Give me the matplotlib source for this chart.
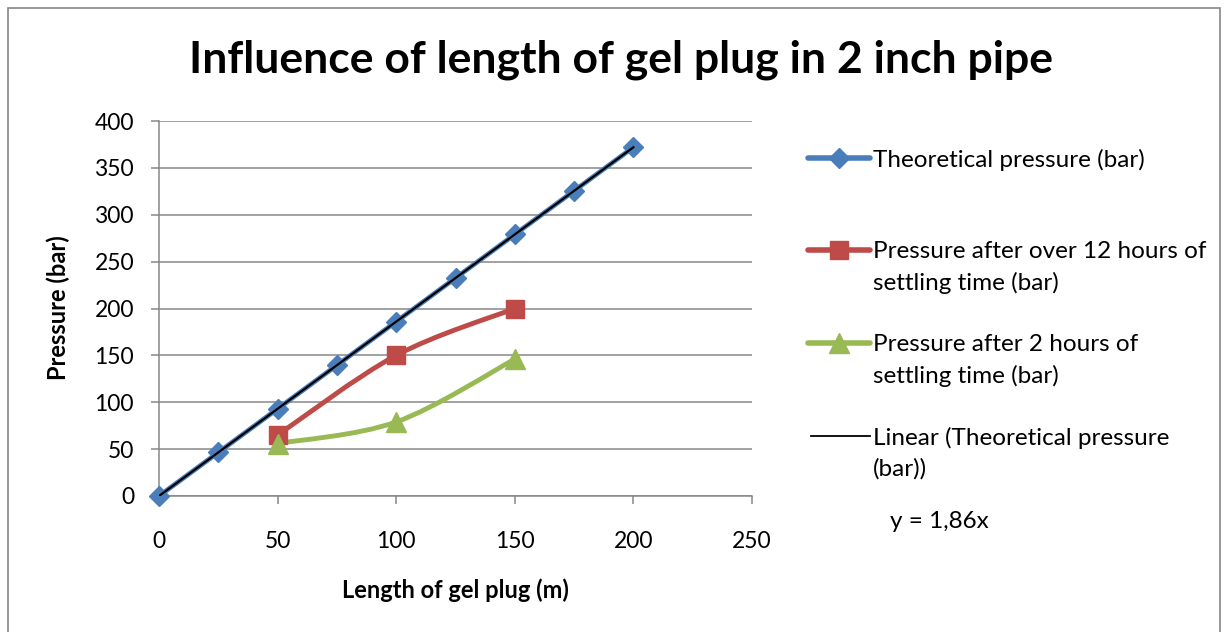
import matplotlib
matplotlib.use("Agg")
import matplotlib.pyplot as plt
import numpy as np
from matplotlib.path import Path
from matplotlib.patches import PathPatch, Rectangle
from matplotlib.lines import Line2D

plt.rcParams['font.family'] = ['Lato', 'DejaVu Sans']

# Data
theo_x = [0, 25, 50, 75, 100, 125, 150, 175, 200]
theo_y = [0, 46.5, 93, 139.5, 186, 232.5, 279, 325.5, 372]
red_x = [50, 100, 150]
red_y = [65, 150, 200]
green_x = [50, 100, 150]
green_y = [56, 79, 146]
slope = 1.86

title = "Influence of length of gel plug in 2 inch pipe"
xlabel = "Length of gel plug (m)"
ylabel = "Pressure (bar)"
labels = ["Theoretical pressure (bar)",
          "Pressure after over 12 hours of\nsettling time (bar)",
          "Pressure after 2 hours of\nsettling time (bar)",
          "Linear (Theoretical pressure\n(bar))"]
eq_text = "y = 1,86x"

BLUE = "#4a7ebb"
RED = "#be4b48"
GREEN = "#98b954"
GRID = "#878787"

fig = plt.figure(figsize=(12.28, 6.32), dpi=100)
ax = fig.add_axes([159/1228, 1-496/632, (752-159)/1228, (496-121)/632])


def smooth_path(xs, ys, t=1/6):
    pts = np.column_stack([xs, ys]).astype(float)
    n = len(pts)
    verts = [pts[0]]
    codes = [Path.MOVETO]
    for i in range(n-1):
        p0 = pts[i-1] if i > 0 else pts[i]
        p1 = pts[i]
        p2 = pts[i+1]
        p3 = pts[i+2] if i+2 < n else pts[i+1]
        c1 = p1 + (p2 - p0) * t
        c2 = p2 - (p3 - p1) * t
        verts += [c1, c2, p2]
        codes += [Path.CURVE4]*3
    return Path(verts, codes)


for xs, ys, col in [(theo_x, theo_y, BLUE), (red_x, red_y, RED), (green_x, green_y, GREEN)]:
    ax.add_patch(PathPatch(smooth_path(xs, ys), facecolor='none', edgecolor=col,
                           lw=3.5, capstyle='round', joinstyle='round', zorder=3))

ax.plot(theo_x, theo_y, ls='none', marker='D', ms=10.5, color=BLUE, zorder=4, clip_on=False)
ax.plot(red_x, red_y, ls='none', marker='s', ms=13.5, color=RED, zorder=4, clip_on=False)
ax.plot(green_x, green_y, ls='none', marker='^', ms=15, color=GREEN, zorder=4, clip_on=False)

tx = np.array([theo_x[0], theo_x[-1]])
ax.plot(tx, slope*tx, color='black', lw=1.6, zorder=5)

ax.set_xlim(0, 250)
ax.set_ylim(0, 400)
ax.set_xticks(range(0, 251, 50))
ax.set_yticks(range(0, 401, 50))
ax.yaxis.grid(True, color=GRID, lw=1.1)
ax.set_axisbelow(True)
for s in ['top', 'right']:
    ax.spines[s].set_visible(False)
for s in ['left', 'bottom']:
    ax.spines[s].set_color(GRID)
    ax.spines[s].set_linewidth(1.1)
ax.tick_params(axis='both', colors=GRID, length=6, width=1.1, labelsize=16.5,
               labelcolor='black')
ax.tick_params(axis='x', pad=19)
ax.tick_params(axis='y', pad=12)

fig.text(621/1228, 1-60/632, title, ha='center', va='center', fontsize=32, fontweight='bold')
fig.text(455/1228, 1-590/632, xlabel, ha='center', va='center', fontsize=17, fontweight='bold')
fig.text(58/1228, 1-308/632, ylabel, ha='center', va='center', fontsize=17, fontweight='bold', rotation=90)

# Legend
hx0, hx1 = 808/1228, 870/1228
tx0 = 873/1228
entries = [(158, BLUE, 'D', 10.5, 4), (250, RED, 's', 13.5, 4),
           (343, GREEN, '^', 15, 4), (436, 'black', None, 0, 1.3)]
for (yp, col, mk, ms, lw), lab in zip(entries, labels):
    yf = 1 - yp/632
    if mk:
        ln = Line2D([hx0, (hx0+hx1)/2, hx1], [yf, yf, yf], transform=fig.transFigure,
                    color=col, lw=lw, marker=mk, ms=ms, markevery=[1],
                    solid_capstyle='round')
    else:
        ln = Line2D([hx0 + 3/1228, hx1], [yf, yf], transform=fig.transFigure,
                    color=col, lw=lw)
    fig.add_artist(ln)
    fig.text(tx0, 1 - (yp - 9)/632, lab, ha='left', va='top', fontsize=17.5,
             linespacing=1.52)
fig.text(890/1228, 1-522/632, eq_text, ha='left', va='center', fontsize=17.5)

fig.add_artist(Rectangle((8/1228, -0.01), (1220-8)/1228, 1-8/632+0.01,
                         transform=fig.transFigure, fill=False, edgecolor='#868686', lw=1.2))

fig.savefig("out.png", dpi=100)
